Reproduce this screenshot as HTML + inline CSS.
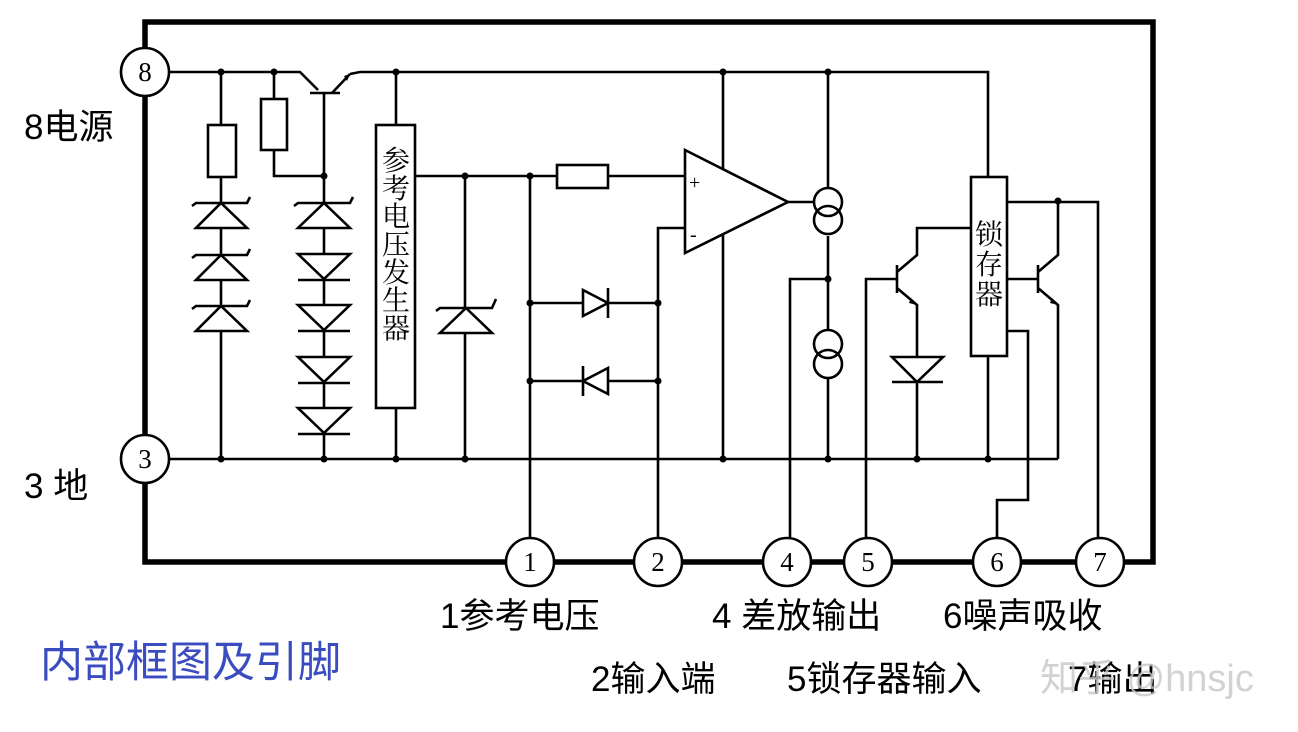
<!DOCTYPE html>
<html><head><meta charset="utf-8"><style>
body{margin:0;background:#fff;width:1298px;height:732px;overflow:hidden}
svg{display:block}
.l{font-family:"Liberation Sans","Noto Sans CJK SC",sans-serif;font-size:35px;fill:#000}
.s{font-family:"Liberation Serif","Noto Serif CJK SC",serif;fill:#000}
</style></head><body>
<svg width="1298" height="732" viewBox="0 0 1298 732" xmlns="http://www.w3.org/2000/svg">
<g fill="none" stroke="#000" stroke-width="2.6">
<rect x="145" y="22" width="1008" height="540" stroke-width="5.5"/>
<path d="M169 72H300L318 90M350 74L360 72H988V177"/>
<path d="M310 93H340M324 93V459M332 93L350 74"/>
<path d="M169 459H1058"/>
<path d="M221 72V125M221 177V459"/>
<rect x="208" y="125" width="28" height="52" fill="#fff"/>
<path d="M274 72V99M274 150V176H324"/>
<rect x="261" y="99" width="26" height="51" fill="#fff"/>
<path d="M396 72V125M396 408V459"/>
<rect x="376" y="125" width="39" height="283" fill="#fff"/>
<path d="M415 176H557M608 176H685M465 176V459M530 176V562"/>
<rect x="557" y="165" width="51" height="23" fill="#fff"/>
<path d="M723 72V459"/>
<path d="M685 150L788 202L685 253Z" fill="#fff"/>
<path d="M658 562V228H685M788 202H814"/>
<path d="M530 303H658M530 381H658"/>
<path d="M583 290L608 303L583 316ZM608 288V318" fill="#fff"/>
<path d="M608 368L583 381L608 394ZM583 366V396" fill="#fff"/>
<path d="M828 72V188M828 236V330M828 378V459M828 279H790V562"/>
<circle cx="828" cy="202" r="14" fill="#fff"/><circle cx="828" cy="220" r="14"/>
<circle cx="828" cy="344" r="14" fill="#fff"/><circle cx="828" cy="364" r="14"/>
<path d="M866 562V279H897M897 265V293M897 272L917 255V228H971M897 288L917 305V459"/>
<path d="M892 357H943L917 382ZM892 382H943" fill="#fff"/>
<rect x="971" y="177" width="36" height="179" fill="#fff"/>
<path d="M988 356V459M1007 331H1028V500H997V562"/>
<path d="M1007 279H1038M1038 265V293M1038 272L1058 255V201M1038 288L1058 305V459M1007 202H1098V562"/>
</g>
<g fill="#fff" stroke="#000" stroke-width="2.6">
<path d="M196 228H247L221 203Z"/><path d="M192 206L196 203H247L250 197" fill="none"/>
<path d="M196 280H247L221 255Z"/><path d="M192 258L196 255H247L250 249" fill="none"/>
<path d="M196 331H247L221 306Z"/><path d="M192 309L196 306H247L250 300" fill="none"/>
<path d="M298 228H350L324 203Z"/><path d="M294 206L298 203H350L353 197" fill="none"/>
<path d="M440 333H492L466 308Z"/><path d="M436 311L440 308H492L496 299" fill="none"/>
<path d="M298 254H350L324 279ZM298 280H350" /><path d="M298 305H350L324 330ZM298 331H350"/>
<path d="M298 357H350L324 382ZM298 383H350"/><path d="M298 408H350L324 433ZM298 434H350"/>
</g>
<g fill="#000">
<circle cx="221" cy="72" r="3.5"/><circle cx="274" cy="72" r="3.5"/><circle cx="396" cy="72" r="3.5"/><circle cx="723" cy="72" r="3.5"/><circle cx="828" cy="72" r="3.5"/>
<circle cx="324" cy="176" r="3.5"/><circle cx="465" cy="176" r="3.5"/><circle cx="530" cy="176" r="3.5"/>
<circle cx="530" cy="303" r="3.5"/><circle cx="658" cy="303" r="3.5"/><circle cx="530" cy="381" r="3.5"/><circle cx="658" cy="381" r="3.5"/>
<circle cx="828" cy="279" r="3.5"/><circle cx="1058" cy="201" r="3.5"/>
<circle cx="221" cy="459" r="3.5"/><circle cx="324" cy="459" r="3.5"/><circle cx="396" cy="459" r="3.5"/><circle cx="465" cy="459" r="3.5"/><circle cx="723" cy="459" r="3.5"/><circle cx="828" cy="459" r="3.5"/><circle cx="917" cy="459" r="3.5"/><circle cx="988" cy="459" r="3.5"/>
<path d="M344 76L350 74L347 81Z"/><path d="M911 298L917 305L909 303Z"/><path d="M1052 298L1058 305L1050 303Z"/>
</g>
<g fill="#fff" stroke="#000" stroke-width="2.6">
<circle cx="145" cy="72" r="24"/><circle cx="145" cy="459" r="24"/>
<circle cx="530" cy="562" r="24"/><circle cx="658" cy="562" r="24"/><circle cx="787" cy="562" r="24"/><circle cx="868" cy="562" r="24"/><circle cx="997" cy="562" r="24"/><circle cx="1100" cy="562" r="24"/>
</g>
<g class="s" font-size="27" text-anchor="middle">
<text x="145" y="81">8</text><text x="145" y="468">3</text>
<text x="530" y="571">1</text><text x="658" y="571">2</text><text x="787" y="571">4</text><text x="868" y="571">5</text><text x="997" y="571">6</text><text x="1100" y="571">7</text>
</g>
<g class="s" font-size="28" text-anchor="middle">
<text x="396" y="170">参</text><text x="396" y="198">考</text><text x="396" y="226">电</text><text x="396" y="254">压</text><text x="396" y="282">发</text><text x="396" y="310">生</text><text x="396" y="338">器</text>
<text x="989" y="244">锁</text><text x="989" y="274">存</text><text x="989" y="304">器</text>
</g>
<g class="s" font-size="20"><text x="689" y="189">+</text><text x="690" y="241">-</text></g>
<text class="l" x="24" y="139">8电源</text>
<text class="l" x="24" y="498">3 地</text>
<text class="l" x="440" y="628">1参考电压</text>
<text class="l" x="712" y="628">4 差放输出</text>
<text class="l" x="943" y="628">6噪声吸收</text>
<text class="l" x="591" y="691">2输入端</text>
<text class="l" x="787" y="691">5锁存器输入</text>
<text class="l" x="1068" y="691">7输出</text>
<text x="1040" y="691" style="font-family:'Liberation Sans','Noto Sans CJK SC',sans-serif;font-size:38px;fill:#c8c8c8;opacity:.8">知乎 @hnsjc</text>
<text x="40" y="677" style="font-family:'Liberation Sans','Noto Sans CJK SC',sans-serif;font-size:43px;fill:#3b4cc0">内部框图及引脚</text>
</svg>
</body></html>
